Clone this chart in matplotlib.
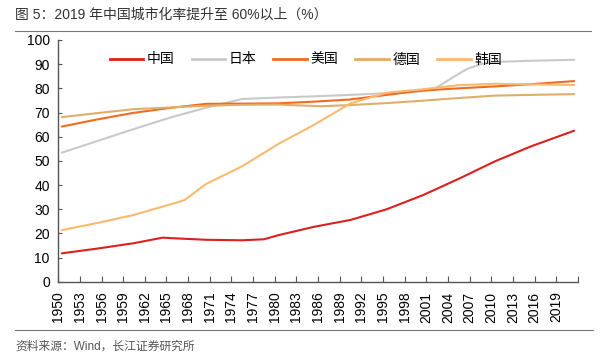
import matplotlib
matplotlib.use("Agg")
import matplotlib.pyplot as plt
from matplotlib.lines import Line2D

plt.rcParams['font.family'] = ['Liberation Sans', 'Noto Sans CJK SC', 'DejaVu Sans']

# values (urbanisation rate, %)
china_years = [1950, 1955, 1960, 1964, 1965, 1970, 1975, 1978, 1980, 1985, 1990, 1995, 2000, 2005, 2010, 2015, 2021]
china_vals = [11.8, 13.8, 16.0, 18.3, 18.1, 17.4, 17.2, 17.6, 19.3, 22.8, 25.6, 30.0, 35.8, 42.6, 49.8, 56.0, 62.5]

japan_years = [1950, 1955, 1960, 1965, 1970, 1975, 1980, 1985, 1990, 1995, 2000, 2002, 2004, 2006, 2008, 2010, 2015, 2021]
japan_vals = [53.4, 58.3, 63.2, 67.9, 72.0, 75.6, 76.2, 76.7, 77.3, 78.0, 78.8, 80.4, 84.2, 87.8, 90.0, 90.9, 91.4, 91.8]

usa_years = [1950, 1955, 1960, 1965, 1970, 1975, 1980, 1985, 1990, 1995, 2000, 2005, 2010, 2015, 2021]
usa_vals = [64.2, 67.2, 69.9, 71.9, 73.6, 73.7, 73.8, 74.5, 75.4, 77.3, 79.1, 80.0, 80.8, 81.7, 83.0]

germany_years = [1950, 1955, 1960, 1965, 1970, 1975, 1980, 1986, 1990, 1995, 2000, 2005, 2010, 2015, 2021]
germany_vals = [68.1, 69.8, 71.4, 72.1, 72.8, 73.2, 73.3, 72.6, 73.1, 73.9, 74.9, 76.0, 77.0, 77.3, 77.6]

korea_years = [1950, 1955, 1960, 1965, 1967, 1970, 1975, 1980, 1985, 1990, 1995, 2000, 2005, 2010, 2015, 2021]
korea_vals = [21.4, 24.4, 27.7, 32.0, 33.8, 40.5, 47.8, 57.0, 65.0, 73.8, 78.2, 79.6, 81.3, 81.9, 81.6, 81.4]

names = ["中国", "日本", "美国", "德国", "韩国"]
colors = ["#DC1F1F", "#C9C9C9", "#F26B1D", "#DFAE6A", "#F9BA70"]

xticks = list(range(1950, 2023, 3))
xticklabels = [str(y) for y in xticks[:-1]] + [""]

fig = plt.figure(figsize=(6, 3.6), dpi=100)
ax = fig.add_axes([0.097, 0.217, 0.866, 0.672])

series = [(china_years, china_vals), (japan_years, japan_vals), (usa_years, usa_vals),
          (germany_years, germany_vals), (korea_years, korea_vals)]
# category axis: each year sits in the middle of its slot
for (yrs, vals), name, c in zip(series, names, colors):
    ax.plot([y + 0.5 for y in yrs], vals, color=c, lw=1.5, label=name, solid_capstyle='round')

ax.set_xlim(1950, 2022)
ax.set_ylim(0, 100)
ax.set_yticks(range(0, 101, 10))
ax.set_xticks(xticks)
ax.set_xticklabels(xticklabels, rotation=90, fontsize=10)
ax.tick_params(axis='y', labelsize=10, direction='in', length=3, color='#555555', pad=6)
ax.tick_params(axis='x', direction='in', length=4, color='#555555', pad=7)
for s in ['top', 'right']:
    ax.spines[s].set_visible(False)
for s in ['left', 'bottom']:
    ax.spines[s].set_color('#555555')
    ax.spines[s].set_linewidth(1.0)

handles = [Line2D([0], [0], color=c, lw=2) for c in colors]
ax.legend(handles, names, loc='upper center', bbox_to_anchor=(0.477, 1.0), ncol=5, frameon=False,
          fontsize=10, handlelength=2.4, handletextpad=0.3, columnspacing=1.2)

# title and footer
fig.text(0.025, 0.958, "图 5：2019 年中国城市化率提升至 60%以上（%）", fontsize=10, color='#333333', va='center')
fig.add_artist(Line2D([0.025, 0.985], [0.914, 0.914], color='#777777', lw=0.8))
fig.add_artist(Line2D([0.025, 0.988], [0.083, 0.083], color='#777777', lw=0.8))
fig.text(0.025, 0.037, "资料来源：Wind，长江证券研究所", fontsize=8.5, color='#555555', va='center')

fig.savefig("out.png", dpi=100)
